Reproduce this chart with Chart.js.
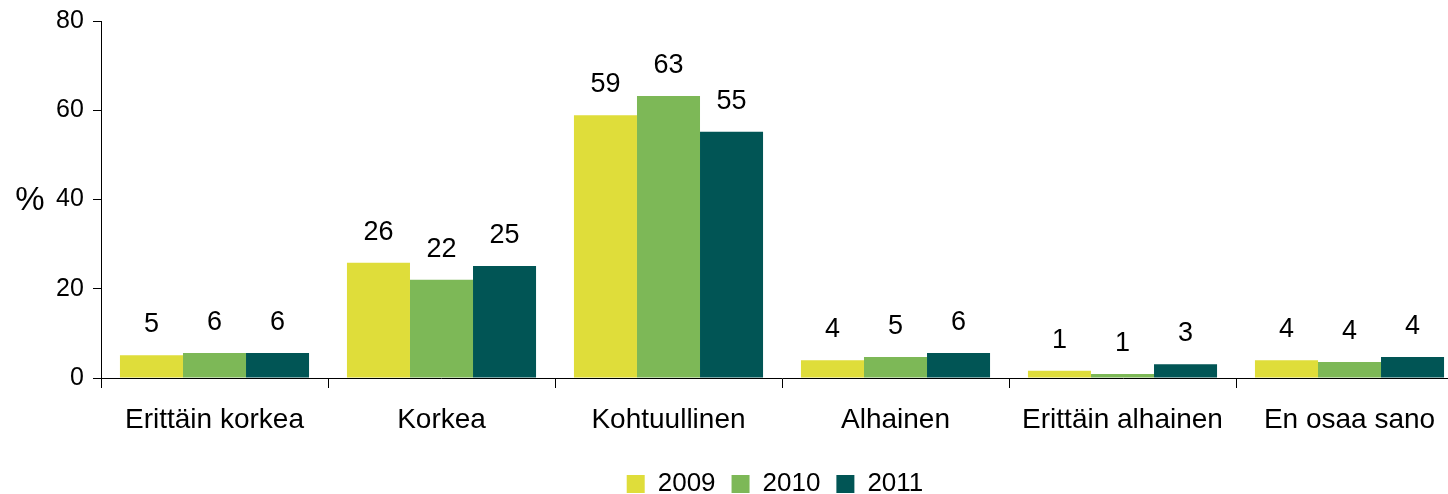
<!DOCTYPE html>
<html>
<head>
<meta charset="utf-8">
<script src="https://cdn.jsdelivr.net/npm/chart.js@4.4.0/dist/chart.umd.min.js"></script>
<style>
  html, body { margin: 0; padding: 0; background: #fff; }
  #wrap { width: 1448px; height: 494px; overflow: hidden; position: relative; }
  canvas { display: block; }
</style>
</head>
<body>
<div id="wrap"><canvas id="c" width="1463" height="507"></canvas></div>
<script>
const categories = ['Erittäin korkea', 'Korkea', 'Kohtuullinen', 'Alhainen', 'Erittäin alhainen', 'En osaa sano'];
const seriesNames = ['2009', '2010', '2011'];
const values2009 = [5.1, 25.8, 58.9, 4.0, 1.6, 4.0];
const values2010 = [5.6, 22.0, 63.2, 4.7, 0.9, 3.6];
const values2011 = [5.6, 25.1, 55.2, 5.6, 3.1, 4.7];
const labels2009 = ['5', '26', '59', '4', '1', '4'];
const labels2010 = ['6', '22', '63', '5', '1', '4'];
const labels2011 = ['6', '25', '55', '6', '3', '4'];
const yTicks = [0, 20, 40, 60, 80];
const yTitle = '%';

const FONT = '"Liberation Sans", Arial, Helvetica, sans-serif';
const colors = ['#DFDD3A', '#7DB857', '#015555'];
const valueLabels = [labels2009, labels2010, labels2011];

const dataLabelPlugin = {
  id: 'dataLabels',
  afterDatasetsDraw(chart) {
    const ctx = chart.ctx;
    ctx.save();
    ctx.font = '27px ' + FONT;
    ctx.fillStyle = '#000';
    ctx.textAlign = 'center';
    ctx.textBaseline = 'alphabetic';
    chart.data.datasets.forEach((ds, i) => {
      const meta = chart.getDatasetMeta(i);
      meta.data.forEach((bar, j) => {
        ctx.fillText(valueLabels[i][j], bar.x, bar.y - 23);
      });
    });
    ctx.restore();
  }
};

const yTitlePlugin = {
  id: 'yTitle',
  afterDraw(chart) {
    const ctx = chart.ctx;
    const y = chart.scales.y.getPixelForValue(40);
    ctx.save();
    ctx.font = '33px ' + FONT;
    ctx.fillStyle = '#000';
    ctx.textAlign = 'center';
    ctx.textBaseline = 'middle';
    ctx.fillText(yTitle, 30, y + 1);
    ctx.restore();
  }
};

new Chart(document.getElementById('c'), {
  type: 'bar',
  data: {
    labels: categories,
    datasets: [
      { label: seriesNames[0], data: values2009, backgroundColor: colors[0], borderWidth: 0 },
      { label: seriesNames[1], data: values2010, backgroundColor: colors[1], borderWidth: 0 },
      { label: seriesNames[2], data: values2011, backgroundColor: colors[2], borderWidth: 0 }
    ]
  },
  options: {
    responsive: false,
    animation: false,
    devicePixelRatio: 1,
    layout: { padding: { left: 87, right: 0, top: 21, bottom: 0 } },
    datasets: { bar: { categoryPercentage: 0.833, barPercentage: 1.0 } },
    plugins: {
      legend: {
        position: 'bottom',
        labels: {
          boxWidth: 18, boxHeight: 18, padding: 16,
          color: '#000',
          font: { family: FONT, size: 26 }
        }
      },
      tooltip: { enabled: false }
    },
    scales: {
      x: {
        afterFit(s) { s.height = 77; },
        grid: { offset: true, drawOnChartArea: false, drawTicks: true, tickLength: 10, color: '#000', lineWidth: 1 },
        border: { display: true, color: '#000', width: 1 },
        ticks: { color: '#000', padding: 15, maxRotation: 0, autoSkip: false, font: { family: FONT, size: 28 } }
      },
      y: {
        min: yTicks[0], max: yTicks[yTicks.length - 1],
        afterFit(s) { s.width = 14; },
        grid: { drawOnChartArea: false, drawTicks: true, tickLength: 8, color: '#000', lineWidth: 1 },
        border: { display: true, color: '#000', width: 1 },
        ticks: {
          stepSize: yTicks[1] - yTicks[0],
          autoSkip: false,
          mirror: true,
          crossAlign: 'far',
          padding: -45,
          color: '#000',
          font: { family: FONT, size: 25 }
        }
      }
    }
  },
  plugins: [dataLabelPlugin, yTitlePlugin]
});
</script>
</body>
</html>
